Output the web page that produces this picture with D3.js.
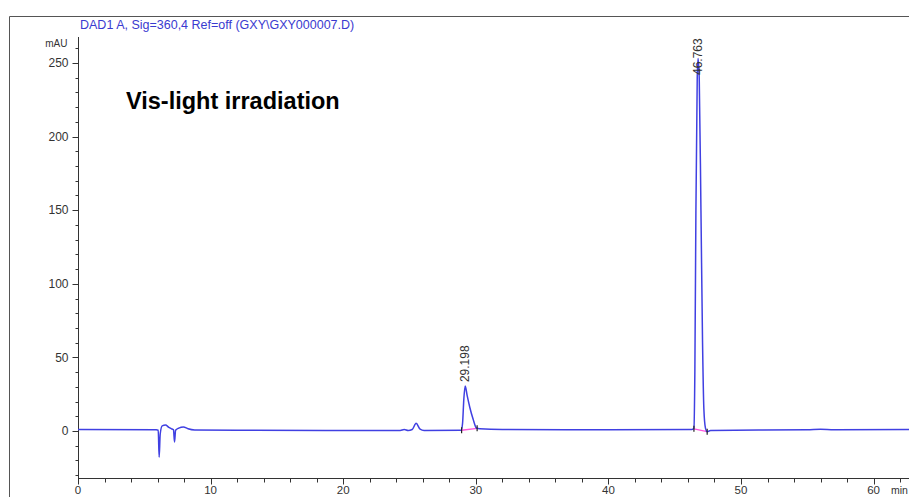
<!DOCTYPE html>
<html>
<head>
<meta charset="utf-8">
<script src="https://cdn.jsdelivr.net/npm/d3@7"></script>
<style>
  html, body { margin: 0; padding: 0; background: #fff; }
  svg { display: block; font-family: Arial, "Liberation Sans", sans-serif; }
</style>
</head>
<body>
<svg id="chart" width="909" height="497"></svg>
<script>
// Chromatogram trace: retention time (min) and absorbance (mAU)
const traceTime = [0, 5.9, 6.05, 6.12, 6.2, 6.35, 6.6, 6.85, 7.05, 7.2, 7.28, 7.36, 7.6, 7.95, 8.3, 8.8,
  12, 20, 24.3, 24.6, 24.9, 25.2, 25.5, 25.8, 26.1,
  28.9, 29.0, 29.1, 29.2, 29.35, 29.55, 29.8, 30.05, 30.3, 32,
  40, 46.3, 46.45, 46.52, 46.6, 46.7, 46.763, 46.85, 46.98, 47.1, 47.2, 47.32, 47.45, 47.7,
  55, 56, 57, 62.7];
const traceMAU = [1.0, 0.8, 0.5, -18, -2, 3.5, 4, 2.5, 1.5, 0.8, -7.5, 0.5, 2, 2.8, 1.5, 0.7,
  0.5, 0.4, 0.4, 1.0, 0.3, 1.0, 5.2, 1.2, 0.3,
  0.5, 5, 22, 30.5, 24, 16, 8, 2, 1.5, 1.0,
  0.8, 1.0, 2, 40, 150, 240, 253, 240, 150, 60, 15, 2, -0.5, 0.4,
  0.8, 1.2, 0.8, 1.0];

// Integrated peaks with their baseline start/end
const peakRT = [29.198, 46.763];
const peakLabels = ["29.198", "46.763"];
const baseStart = [28.93, 46.45];
const baseStartMAU = [0.5, 1.5];
const baseEnd = [30.1, 47.45];
const baseEndMAU = [1.8, -0.5];

const xMajorTicks = [0, 10, 20, 30, 40, 50, 60];
const yMajorTicks = [0, 50, 100, 150, 200, 250];

const titleText = "DAD1 A, Sig=360,4 Ref=off (GXY\\GXY000007.D)";
const noteText = "Vis-light irradiation";

const svg = d3.select("#chart");

// outer frame
svg.append("path")
  .attr("d", "M9.5,497 V16.5 H909")
  .attr("fill", "none").attr("stroke", "#555").attr("stroke-width", 1);

const x = d3.scaleLinear().domain([0, 62.67]).range([78, 909]);
const y = d3.scaleLinear().domain([-32.2, 0, 250]).range([478, 431, 63]);

// title
svg.append("text").attr("x", 80).attr("y", 28.5)
  .attr("font-size", 12.5).attr("fill", "#3a3ad0").text(titleText);

// y axis
const yAxis = svg.append("g").attr("transform", "translate(78.5,0)");
yAxis.append("line").attr("y1", 37).attr("y2", 478).attr("stroke", "#333");
yAxis.selectAll(".ymin").data(d3.range(-30, 261, 10)).join("line")
  .attr("x1", d => yMajorTicks.includes(d) ? -6 : -3).attr("x2", 0)
  .attr("y1", d => Math.round(y(d)) + 0.5).attr("y2", d => Math.round(y(d)) + 0.5)
  .attr("stroke", "#333");
yAxis.selectAll(".ylab").data(yMajorTicks).join("text")
  .attr("x", -10).attr("y", d => y(d)).attr("dy", "0.35em")
  .attr("text-anchor", "end").attr("font-size", 12).attr("fill", "#333")
  .text(d => d);
yAxis.append("text").attr("x", -11).attr("y", 47).attr("text-anchor", "end")
  .attr("font-size", 10).attr("fill", "#333").text("mAU");

// x axis
const xAxis = svg.append("g").attr("transform", "translate(0,478.5)");
xAxis.append("line").attr("x1", 78).attr("x2", 909).attr("stroke", "#333");
xAxis.selectAll(".xmin").data(d3.range(0, 63, 2)).join("line")
  .attr("x1", d => Math.round(x(d)) + 0.5).attr("x2", d => Math.round(x(d)) + 0.5)
  .attr("y1", 0).attr("y2", d => d % 10 === 0 ? 6 : 4)
  .attr("stroke", "#333");
xAxis.selectAll(".xlab").data(xMajorTicks).join("text")
  .attr("x", d => x(d)).attr("y", 15.5).attr("text-anchor", "middle")
  .attr("font-size", 11.5).attr("fill", "#333").text(d => d);
xAxis.append("text").attr("x", 891).attr("y", 15.5)
  .attr("font-size", 10.5).attr("fill", "#333").text("min");

// annotation
svg.append("text").attr("x", 126).attr("y", 109)
  .attr("font-size", 23.5).attr("font-weight", "bold").attr("fill", "#000")
  .text(noteText);

// integration baselines
svg.selectAll(".base").data(peakRT).join("line")
  .attr("x1", (d, i) => x(baseStart[i])).attr("y1", (d, i) => y(baseStartMAU[i]))
  .attr("x2", (d, i) => x(baseEnd[i])).attr("y2", (d, i) => y(baseEndMAU[i]))
  .attr("stroke", "#ff55dd").attr("stroke-width", 1.3);

// signal trace
const pts = traceTime.map((t, i) => [t, traceMAU[i]]);
svg.append("path").datum(pts)
  .attr("fill", "none").attr("stroke", "#4040e2").attr("stroke-width", 1.5)
  .attr("stroke-linejoin", "round")
  .attr("d", d3.line().x(d => x(d[0])).y(d => y(d[1])).curve(d3.curveMonotoneX));

// start/end tick marks of integration
const marks = [];
peakRT.forEach((d, i) => {
  marks.push([baseStart[i], baseStartMAU[i]]);
  marks.push([baseEnd[i], baseEndMAU[i]]);
});
svg.selectAll(".mark").data(marks).join("line")
  .attr("x1", d => x(d[0])).attr("x2", d => x(d[0]))
  .attr("y1", d => y(d[1]) - 3).attr("y2", d => y(d[1]) + 3)
  .attr("stroke", "#222").attr("stroke-width", 1.2);

// retention time labels
svg.selectAll(".rt").data(peakRT).join("text")
  .attr("transform", (d, i) => {
    const top = d3.max(pts.filter(p => Math.abs(p[0] - d) < 0.01), p => p[1]);
    const yy = i === 0 ? y(top) - 4 : 75;
    return `translate(${x(d) + 4},${yy}) rotate(-90)`;
  })
  .attr("font-size", 12).attr("fill", "#333").text((d, i) => peakLabels[i]);
</script>
</body>
</html>
